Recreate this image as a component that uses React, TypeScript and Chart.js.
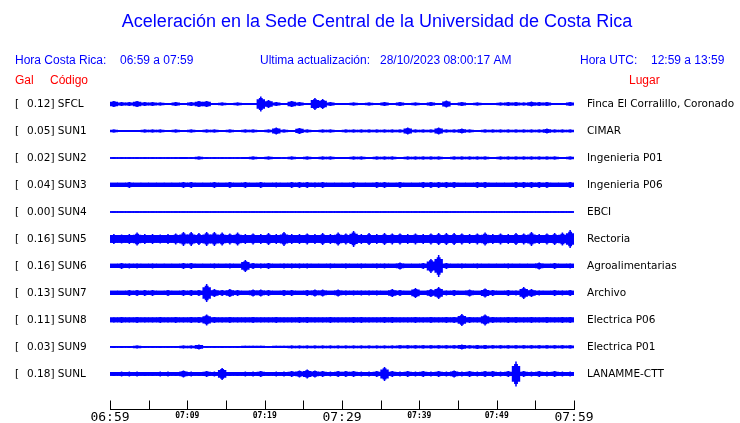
import React, { useEffect, useRef } from 'react';
import { Chart, registerables } from 'chart.js';

Chart.register(...registerables);

const TITLE = 'Aceleración en la Sede Central de la Universidad de Costa Rica';
const LOCAL_LABEL = 'Hora Costa Rica:';
const LOCAL_RANGE = '06:59 a 07:59';
const UPDATE_LABEL = 'Ultima actualización:';
const UPDATE_TIME = '28/10/2023 08:00:17 AM';
const UTC_LABEL = 'Hora UTC:';
const UTC_RANGE = '12:59 a 13:59';

const CODES = ['SFCL', 'SUN1', 'SUN2', 'SUN3', 'SUN4', 'SUN5', 'SUN6', 'SUN7', 'SUN8', 'SUN9', 'SUNL'];
const GALS = ['0.12', '0.05', '0.02', '0.04', '0.00', '0.16', '0.16', '0.13', '0.11', '0.03', '0.18'];
const PLACES = [
  'Finca El Corralillo, Coronado', 'CIMAR', 'Ingenieria P01', 'Ingenieria P06', 'EBCI', 'Rectoria',
  'Agroalimentarias', 'Archivo', 'Electrica P06', 'Electrica P01', 'LANAMME-CTT',
];

// minute labels every 10 minutes, minor ticks every 5
const TICK_LABELS = ['06:59', '07:09', '07:19', '07:29', '07:39', '07:49', '07:59'];
const MAJOR_LABELS = ['06:59', '07:29', '07:59'];

// background noise half-amplitude per station (amplitude units)
const BASE = [0.6, 0.6, 0.5, 1.8, 0.5, 3.5, 1.8, 1.8, 2, 0.5, 1.5];

// peak half-amplitude per minute (amplitude units)
const SFCL = [3,2,2,3,2,2,1.5,1,2,1,2,3,3,1,1.5,0.6,1.5,0.6,1,7.5,4,2,1,3,2,1,6,5,2,1,1,1.5,0.6,1.5,1,2,1,2,0.6,1.5,1,2,1,3.5,1,2,1,1.5,0.6,1,1.5,2,2,1.5,2.5,2,2,1,1,2];
const SUN1 = [1.5,1,0.6,1,1.5,1.5,1.5,1,1.5,1,1.5,1,1.5,1.5,0.6,1.5,1,1.5,1.5,1,1.5,3.5,1.5,1,3,1.5,1,1.5,1.5,1,1.5,1.5,1.5,1.5,1.5,1.5,1.5,1.5,3.5,1.5,1.5,1.5,3.5,1.5,1.5,2.5,1.5,1,1.5,1.5,1.5,1.5,1.5,1.5,1.5,1.5,2.5,1.5,1.5,1.5];
const SUN2 = [0.5,0.5,0.5,0.5,0.5,0.5,0.5,0.5,0.5,1,0.5,1.5,0.5,0.5,0.5,0.5,0.5,1,1.5,1,1.5,1,0.5,1.5,1,1.5,1,1.5,1.5,1,1,1.5,1.5,1,1.5,1.5,1.5,1,1.5,1.5,1.5,1.5,1.5,1,1.5,1.5,1.5,1.5,1.5,1,1.5,1.5,1.5,1.5,1.5,1.5,1.5,1.5,1,1.5];
const SUN3 = [2,2,3,2,2,2,2,2,2,3,3,2,2,3,2,3,2,3,2,3,2,2.5,2,3,3,3,2.5,3,2,2,2,3,2,2,3,3,2,3,2,2,3,3,3,3,3,2,2,3,3,2,2,2,3,3,3,3,3,2,2,3];
const SUN4 = [0,0,0,0,0,0,0,0,0,0,0,0,0,0,0,0,0,0,0,0,0,0,0,0,0,0,0,0,0,0,0,0,0,0,0,0,0,0,0,0,0,0,0,0,0,0,0,0,0,0,0,0,0,0,0,0,0,0,0,0];
const SUN5 = [5,4.5,5,6.5,5,5,4.5,5,5.5,7,7,6,7,7,6.5,5.5,6.5,5,5.5,5,6,5,7,5,5,5.5,5,6,5,6.5,5.5,8,5,6,5,6,5.5,5.5,5,5.5,5,5.5,6,6,6,5.5,5,5.5,6.5,5,5.5,5,6,5.5,7,5,5.5,6,6.5,9];
const SUN6 = [2,3,2.5,2.5,2,2.5,2,2,2,3,3,2,2,2.5,2,2.5,2,6,3,2.5,3,2,2.5,2.5,2.5,2.5,2,2,2.5,2,2.5,2,2.5,2,2.5,2.5,2,3.5,2,2,3,7,11,3,2,2.5,2,2.5,2,2,2,2.5,2,2,2,3.5,2,3,2,2.5];
const SUN7 = [2,2,3,3,3,3,2,3,2,3,3,3,9,4,3,4,3,2,3.5,3.5,3,2,3,3,2,3,3.5,3.5,2,3.5,2.5,2.5,2.5,2.5,2.5,2,4,3,2,5,2,4,6,2.5,3,2,3.5,2,4.5,3,2,3,2.5,6,4,2.5,2,3,2.5,3];
const SUN8 = [2.5,3,2.5,3,2.5,2.5,3,2.5,3,2.5,3,3,5.5,3,2.5,3,2.5,2.5,3,2.5,2.5,3,2.5,2.5,3,3,2.5,2.5,3,2.5,2.5,3,3,2.5,2.5,3,3,2.5,2.5,3,2.5,3,2.5,3,3,6,3,2.5,5.5,3,2.5,3,3,2.5,3,2.5,3,2.5,3,3];
const SUN9 = [1,1,1,1.5,0.5,0.5,1,0.5,0.5,1.5,1.5,2.5,0.5,0.5,1,0.5,1,1.2,1.2,1.2,0.5,1.2,1.2,1.5,1.5,1.5,1.5,1.5,1.5,1.5,1.5,1.5,1.5,1.5,1.5,1.5,1.5,1.7,1.7,1.7,1.7,1.7,1.7,1.7,1.7,2.5,1.7,2,2,1.7,1.7,1.7,1.7,1.7,1.7,1.7,1.7,1.7,1.7,1.7];
const SUNL = [2,2.5,2.5,2.5,2,2,2.5,2.5,2,3.5,2.5,2,3,2.5,6,2,2,2.5,2.5,3,2,2.5,2.5,3,3.5,4.5,3.5,3,2.5,3,3,3,2.5,2.5,3,7,3,2.5,3,2.5,3,2.5,3,2.5,3.5,2.5,3,2.5,3,3,2.5,3,12.5,3,2.5,3,2.5,3,2.5,2.5];

const TRACES = [SFCL, SUN1, SUN2, SUN3, SUN4, SUN5, SUN6, SUN7, SUN8, SUN9, SUNL];

const MINUTES = 60;
const AMP_UNIT = 1 / 27; // amplitude unit as a fraction of row spacing
const BLUE = '#0000ff';
const RED = '#ff0000';

const textPlugin = {
  id: 'seismoText',
  afterDraw(chart: any) {
    const ctx = chart.ctx as CanvasRenderingContext2D;
    const xs = chart.scales.x;
    const ys = chart.scales.y;
    const area = chart.chartArea;
    ctx.save();
    ctx.textBaseline = 'middle';

    ctx.fillStyle = BLUE;
    ctx.font = '18px "Liberation Sans", Arial, sans-serif';
    ctx.textAlign = 'center';
    ctx.fillText(TITLE, 377, 22);

    ctx.font = '12px "Liberation Sans", Arial, sans-serif';
    ctx.textAlign = 'left';
    ctx.fillText(LOCAL_LABEL, 15, 61);
    ctx.fillText(LOCAL_RANGE, 120, 61);
    ctx.fillText(UPDATE_LABEL, 260, 61);
    ctx.fillText(UPDATE_TIME, 380, 61);
    ctx.fillText(UTC_LABEL, 580, 61);
    ctx.fillText(UTC_RANGE, 651, 61);

    ctx.fillStyle = RED;
    ctx.fillText('Gal', 15, 81);
    ctx.fillText('Código', 50, 81);
    ctx.fillText('Lugar', 629, 81);

    ctx.fillStyle = '#000';
    ctx.font = '10.5px "DejaVu Sans", sans-serif';
    CODES.forEach((code, i) => {
      const y = ys.getPixelForValue(i);
      ctx.fillText('[', 15, y);
      ctx.fillText(GALS[i] + '] ' + code, 27, y);
      ctx.fillText(PLACES[i], 587, y);
    });

    const axisY = Math.round(area.bottom) + 0.5;
    ctx.strokeStyle = '#000';
    ctx.lineWidth = 1;
    ctx.beginPath();
    ctx.moveTo(xs.getPixelForValue(0), axisY);
    ctx.lineTo(xs.getPixelForValue(MINUTES) + 1, axisY);
    for (let m = 0; m <= MINUTES; m += 5) {
      const x = Math.round(xs.getPixelForValue(m)) + 0.5;
      ctx.moveTo(x, axisY);
      ctx.lineTo(x, axisY - 9);
    }
    ctx.stroke();

    ctx.textAlign = 'center';
    ctx.textBaseline = 'alphabetic';
    TICK_LABELS.forEach((lab, i) => {
      const x = xs.getPixelForValue(i * 10);
      if (MAJOR_LABELS.includes(lab)) {
        ctx.font = '13px "DejaVu Sans Mono", monospace';
        ctx.fillText(lab, x, 421);
      } else {
        ctx.font = 'bold 8px "DejaVu Sans Mono", monospace';
        ctx.fillText(lab, x, 418);
      }
    });
    ctx.restore();
  },
};

function barSet(row: number, halves: number[], pct: number) {
  return {
    type: 'bar',
    data: halves.map((h, i) => ({ x: i + 0.5, y: [row - h * AMP_UNIT, row + h * AMP_UNIT] })),
    backgroundColor: BLUE,
    borderWidth: 0,
    grouped: false,
    barPercentage: pct,
    categoryPercentage: 1,
  };
}

export default function App() {
  const ref = useRef<HTMLCanvasElement>(null);
  useEffect(() => {
    if (!ref.current) return;
    const datasets: any[] = [];
    TRACES.forEach((amps, row) => {
      const base = BASE[row];
      // background band, burst body, inner body and narrow peak, all from the same readings
      datasets.push(barSet(row, amps.map(() => base), 1));
      datasets.push(barSet(row, amps.map((a) => Math.max(base, a * 0.6)), 1));
      datasets.push(barSet(row, amps.map((a) => Math.max(base, a * 0.8)), 0.5));
      datasets.push(barSet(row, amps, 0.2));
    });
    const chart = new Chart(ref.current, {
      type: 'bar',
      data: { datasets },
      options: {
        animation: false,
        responsive: false,
        devicePixelRatio: 1,
        layout: { padding: { left: 110, right: 166, top: 90.5, bottom: 14 } },
        plugins: { legend: { display: false }, tooltip: { enabled: false }, title: { display: false } },
        scales: {
          x: { type: 'linear', min: 0, max: MINUTES, offset: false, display: false, ticks: { stepSize: 5 } },
          y: { type: 'linear', min: -0.5, max: 11.3, reverse: true, display: false },
        },
      },
      plugins: [textPlugin],
    } as any);
    return () => chart.destroy();
  }, []);
  return (
    <div style={{ position: 'absolute', left: 0, top: 0, width: 740, height: 423, background: '#fff' }}>
      <canvas ref={ref} width={740} height={423} />
    </div>
  );
}
